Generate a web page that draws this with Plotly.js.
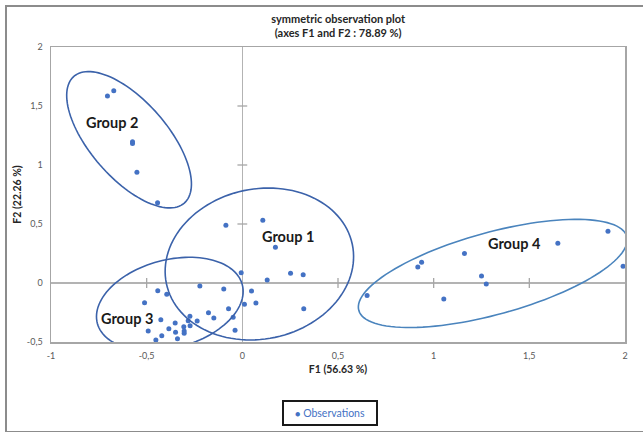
<!DOCTYPE html>
<html>
<head>
<meta charset="utf-8">
<script src="https://cdn.plot.ly/plotly-3.0.1.min.js"></script>
<style>
  html, body { margin: 0; padding: 0; background: #ffffff; }
  #frame { position: absolute; left: 5px; top: 5px; width: 700px; height: 424px; border: 2px solid #8c8c8c; box-sizing: content-box; }
  #chart { position: absolute; left: 0; top: 0; width: 643px; height: 432px; }
</style>
</head>
<body>
<div id="frame"></div>
<div id="chart"></div>
<script>
// ---- data ----
const group1X = [-0.086, 0.107, 0.173, -0.006, 0.252, 0.318, 0.13, -0.222, -0.097, 0.048, 0.011, 0.071, 0.321, -0.072, -0.177, -0.149, -0.048, -0.038];
const group1Y = [0.489, 0.531, 0.302, 0.087, 0.082, 0.07, 0.025, -0.025, -0.051, -0.068, -0.181, -0.169, -0.218, -0.218, -0.252, -0.297, -0.291, -0.401];
const group2X = [-0.705, -0.672, -0.574, -0.574, -0.551, -0.443];
const group2Y = [1.585, 1.63, 1.197, 1.183, 0.938, 0.68];
const group3X = [-0.442, -0.395, -0.511, -0.426, -0.274, -0.283, -0.236, -0.351, -0.384, -0.306, -0.273, -0.349, -0.304, -0.304, -0.492, -0.421, -0.339, -0.452];
const group3Y = [-0.065, -0.096, -0.167, -0.311, -0.282, -0.319, -0.322, -0.339, -0.387, -0.37, -0.362, -0.418, -0.407, -0.426, -0.407, -0.447, -0.472, -0.483];
const group4X = [0.652, 0.917, 0.937, 1.053, 1.161, 1.25, 1.275, 1.649, 1.911, 1.99];
const group4Y = [-0.105, 0.136, 0.175, -0.136, 0.249, 0.059, -0.008, 0.336, 0.438, 0.141];

const groupNames = ["Group 1", "Group 2", "Group 3", "Group 4"];
const seriesName = "Observations";
const xTickVals = [-1, -0.5, 0, 0.5, 1, 1.5, 2];
const xTickText = ["-1", "-0,5", "0", "0,5", "1", "1,5", "2"];
const yTickVals = [-0.5, 0, 0.5, 1, 1.5, 2];
const yTickText = ["-0,5", "0", "0,5", "1", "1,5", "2"];

// ---- layout geometry ----
const W = 643, H = 432;
const M = { l: 51, r: 18, t: 47, b: 90, autoexpand: false };
const xRange = [-1, 2], yRange = [-0.5, 2];
const pxPerX = (W - M.l - M.r) / (xRange[1] - xRange[0]);
const pxPerY = (H - M.t - M.b) / (yRange[1] - yRange[0]);

// group ellipses: centre (data), semi-axes (px), rotation (deg, screen)
const ellipses = [
  { cx: 0.089, cy: 0.161, a: 95, b: 75, ang: -12, color: "#3b62aa" },
  { cx: -0.592, cy: 1.214, a: 84, b: 38.5, ang: 48.9, color: "#3b62aa" },
  { cx: -0.379, cy: -0.178, a: 75, b: 44, ang: -15, color: "#3b62aa" },
  { cx: 1.309, cy: 0.081, a: 139, b: 41, ang: -15.4, color: "#4a84bd" }
];
const labelPos = [
  { x: 0.238, y: 0.398 }, { x: -0.682, y: 1.364 }, { x: -0.604, y: -0.297 }, { x: 1.424, y: 0.339 }
];

function ellipsePath(e) {
  const th = e.ang * Math.PI / 180;
  let d = "";
  const n = 120;
  for (let i = 0; i <= n; i++) {
    const t = 2 * Math.PI * i / n;
    const px = e.a * Math.cos(t) * Math.cos(th) - e.b * Math.sin(t) * Math.sin(th);
    const py = e.a * Math.cos(t) * Math.sin(th) + e.b * Math.sin(t) * Math.cos(th);
    const x = e.cx + px / pxPerX;
    const y = e.cy - py / pxPerY;
    d += (i === 0 ? "M" : "L") + x.toFixed(5) + "," + y.toFixed(5);
  }
  return d + "Z";
}

const allX = [].concat(group1X, group2X, group3X, group4X);
const allY = [].concat(group1Y, group2Y, group3Y, group4Y);

const FONT = "Lato, 'Liberation Sans', sans-serif";
const blue = "#4472c4";

const innerXT = xTickVals.filter(v => v > xRange[0] && v < xRange[1] && v !== 0);
const innerYT = yTickVals.filter(v => v > yRange[0] && v < yRange[1] && v !== 0);

const traces = [
  {
    type: "scatter", mode: "markers", name: seriesName,
    x: allX, y: allY, showlegend: false,
    marker: { color: blue, size: 5 },
    cliponaxis: false
  },
  { // tick marks crossing the horizontal zero axis
    type: "scatter", mode: "markers", showlegend: false, hoverinfo: "skip",
    x: innerXT, y: innerXT.map(() => 0),
    marker: { symbol: "line-ns", size: 7, line: { color: "#a6a6a6", width: 1.3 } }
  },
  { // tick marks crossing the vertical zero axis
    type: "scatter", mode: "markers", showlegend: false, hoverinfo: "skip",
    x: innerYT.map(() => 0), y: innerYT,
    marker: { symbol: "line-ew", size: 7, line: { color: "#a6a6a6", width: 1.3 } }
  }
];

const shapes = ellipses.map(e => ({
  type: "path", xref: "x", yref: "y", path: ellipsePath(e),
  line: { color: e.color, width: 1.6 }, fillcolor: "rgba(0,0,0,0)", layer: "above"
}));

const annotations = groupNames.map((g, i) => ({
  x: labelPos[i].x, y: labelPos[i].y, xref: "x", yref: "y", text: g, showarrow: false,
  font: { family: FONT, size: 14.5, color: "#1a1a1a", weight: "bold" },
  xanchor: "center", yanchor: "middle"
}));

// legend box drawn as a bordered annotation
annotations.push({
  xref: "paper", yref: "paper", x: 0.486, y: -0.241, xanchor: "center", yanchor: "middle",
  text: "<span style='font-size:9px'>●</span> " + seriesName,
  showarrow: false,
  font: { family: FONT, size: 10.5, color: blue },
  bordercolor: "#1a1a1a", borderwidth: 2, borderpad: 3, bgcolor: "#ffffff",
  width: 86, height: 16
});

const axisCommon = {
  showgrid: false, zeroline: true, zerolinecolor: "#b3b3b3", zerolinewidth: 1.3,
  showline: true, mirror: true, linecolor: "#a6a6a6", linewidth: 1.5,
  ticks: "outside", ticklen: 5, tickcolor: "rgba(0,0,0,0)",
  tickfont: { family: FONT, size: 9, color: "#595959" },
  fixedrange: true, automargin: false
};

const layout = {
  width: W, height: H,
  margin: M,
  paper_bgcolor: "rgba(0,0,0,0)", plot_bgcolor: "rgba(0,0,0,0)",
  title: {
    text: "<b>symmetric observation plot</b><br><b>(axes F1 and F2 : 78.89 %)</b>",
    font: { family: FONT, size: 11, color: "#262626" },
    x: 0.526, xanchor: "center", yref: "container", y: 0.947, yanchor: "top"
  },
  xaxis: Object.assign({}, axisCommon, {
    range: xRange, tickmode: "array", tickvals: xTickVals, ticktext: xTickText,
    title: { text: "<b>F1 (56.63 %)</b>", font: { family: FONT, size: 10.5, color: "#262626" }, standoff: 5 }
  }),
  yaxis: Object.assign({}, axisCommon, {
    range: yRange, tickmode: "array", tickvals: yTickVals, ticktext: yTickText,
    title: { text: "<b>F2 (22.26 %)</b>", font: { family: FONT, size: 10.5, color: "#262626" }, standoff: 3 }
  }),
  showlegend: false,
  shapes: shapes,
  annotations: annotations
};

Plotly.newPlot("chart", traces, layout, { displayModeBar: false, staticPlot: true });
</script>
</body>
</html>
